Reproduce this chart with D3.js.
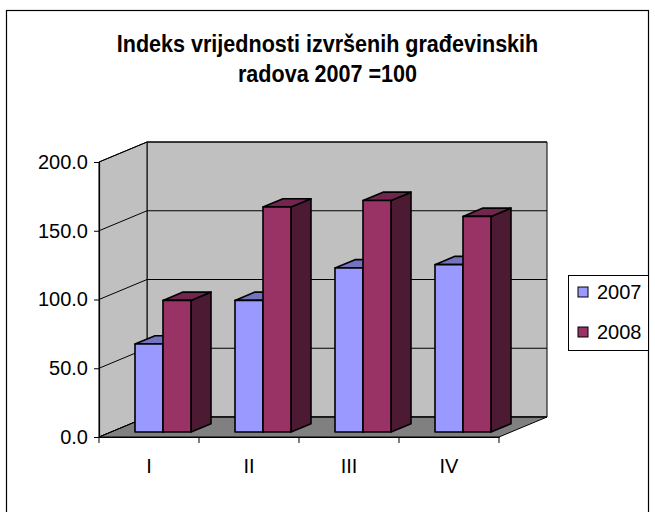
<!DOCTYPE html>
<html>
<head>
<meta charset="utf-8">
<script src="https://cdn.jsdelivr.net/npm/d3@7"></script>
<style>
  html, body { margin: 0; padding: 0; background: #fff; }
  svg { display: block; font-family: Arial, "Liberation Sans", sans-serif; }
</style>
</head>
<body>
<svg id="chart" width="655" height="512"></svg>
<script>
// ---- data ----
const categories = ["I", "II", "III", "IV"];
const seriesNames = ["2007", "2008"];
const values2007 = [64.0, 95.7, 119.3, 121.7];
const values2008 = [95.7, 163.6, 168.4, 156.8];
const yTicks = [0, 50, 100, 150, 200];
const titleLines = ["Indeks vrijednosti izvršenih građevinskih", "radova 2007 =100"];

const seriesValues = [values2007, values2008];
const colors = {
  "2007": { front: "#9999ff", top: "#7373bf", side: "#4d4d80" },
  "2008": { front: "#993366", top: "#73264d", side: "#4d1a33" }
};

const svg = d3.select("#chart");

// outer frame
svg.append("rect").attr("x", 6.5).attr("y", 10.5).attr("width", 642).attr("height", 520)
  .attr("fill", "#fff").attr("stroke", "#000").attr("stroke-width", 1.2);

// title
titleLines.forEach((t, i) => {
  svg.append("text")
    .attr("transform", `translate(327.5, ${52 + i * 30}) scale(0.88,1)`)
    .attr("text-anchor", "middle")
    .attr("font-size", 24.5).attr("font-weight", "bold").attr("fill", "#000")
    .text(t);
});

// geometry
const x = d3.scaleBand().domain(categories).range([99, 499]).padding(0);
const y = d3.scaleLinear().domain([0, 200]).range([437, 162]);
const DX = 48, DY = -20;          // full depth of the plot box
const bfx = 12, bfy = -5;         // bar front offset into depth
const bdx = 20, bdy = -8.3;       // bar depth
const inner = d3.scaleBand().domain(seriesNames).range([0, 56]).padding(0);
const groupOffset = 24;

const x0 = x.range()[0], x1 = x.range()[1];
const yb = y(0), yt = y(200);

// walls
svg.append("polygon")
  .attr("points", [[x0 + DX, yt + DY], [x1 + DX, yt + DY], [x1 + DX, yb + DY], [x0 + DX, yb + DY]].join(" "))
  .attr("fill", "#c0c0c0").attr("stroke", "#000").attr("stroke-width", 1);
svg.append("polygon")
  .attr("points", [[x0, yt], [x0 + DX, yt + DY], [x0 + DX, yb + DY], [x0, yb]].join(" "))
  .attr("fill", "#c0c0c0").attr("stroke", "#000").attr("stroke-width", 1);
svg.append("polygon")
  .attr("points", [[x0, yb], [x1, yb], [x1 + DX, yb + DY], [x0 + DX, yb + DY]].join(" "))
  .attr("fill", "#808080").attr("stroke", "#000").attr("stroke-width", 1);

// gridlines
yTicks.forEach(v => {
  svg.append("line").attr("x1", x0 + DX).attr("x2", x1 + DX)
    .attr("y1", y(v) + DY).attr("y2", y(v) + DY)
    .attr("stroke", "#000").attr("stroke-width", 1);
  svg.append("line").attr("x1", x0).attr("x2", x0 + DX)
    .attr("y1", y(v)).attr("y2", y(v) + DY)
    .attr("stroke", "#000").attr("stroke-width", 1);
});

// y axis
const yAxis = d3.axisLeft(y).tickValues(yTicks).tickSize(5).tickPadding(6)
  .tickFormat(d3.format(".1f"));
const gy = svg.append("g").attr("transform", `translate(${x0},0)`).call(yAxis);
gy.select(".domain").attr("stroke", "#000").attr("stroke-width", 1.2);
gy.selectAll(".tick line").attr("stroke", "#000");
gy.selectAll(".tick text").attr("font-size", 20).attr("fill", "#000")
  .attr("font-family", "Arial, 'Liberation Sans', sans-serif");

// x axis
const xAxis = d3.axisBottom(x).tickSize(0).tickPadding(22);
const gx = svg.append("g").attr("transform", `translate(0,${yb})`).call(xAxis);
gx.select(".domain").attr("stroke", "#000").attr("stroke-width", 1.2);
gx.selectAll(".tick text").attr("font-size", 20).attr("fill", "#000")
  .attr("font-family", "Arial, 'Liberation Sans', sans-serif");
// category boundary ticks
const bounds = categories.map(c => x(c)).concat([x1]);
gx.selectAll(".bound").data(bounds).enter().append("line")
  .attr("x1", d => d).attr("x2", d => d).attr("y1", 0).attr("y2", 6)
  .attr("stroke", "#000").attr("stroke-width", 1);

// bars
const barsG = svg.append("g");
categories.forEach((c, ci) => {
  seriesNames.forEach((s, si) => {
    const v = seriesValues[si][ci];
    const L = x(c) + groupOffset + bfx + inner(s);
    const R = L + inner.bandwidth();
    const B = y(0) + bfy;
    const T = y(v) + bfy;
    const col = colors[s];
    const g = barsG.append("g").attr("stroke", "#000").attr("stroke-width", 1.6)
      .attr("stroke-linejoin", "round");
    g.append("polygon").attr("points",
      [[R, T], [R + bdx, T + bdy], [R + bdx, B + bdy], [R, B]].join(" "))
      .attr("fill", col.side);
    g.append("polygon").attr("points",
      [[L, T], [L + bdx, T + bdy], [R + bdx, T + bdy], [R, T]].join(" "))
      .attr("fill", col.top);
    g.append("rect").attr("x", L).attr("y", T).attr("width", R - L).attr("height", B - T)
      .attr("fill", col.front);
  });
});

// legend
const lg = svg.append("g");
lg.append("rect").attr("x", 568.5).attr("y", 275.5).attr("width", 80).attr("height", 75)
  .attr("fill", "#fff").attr("stroke", "#000").attr("stroke-width", 1);
seriesNames.forEach((s, i) => {
  const cy = 292 + i * 40;
  lg.append("rect").attr("x", 578).attr("y", cy - 5).attr("width", 10).attr("height", 10)
    .attr("fill", colors[s].front).attr("stroke", "#000").attr("stroke-width", 1);
  lg.append("text").attr("x", 597).attr("y", cy + 7).attr("font-size", 20).attr("fill", "#000")
    .text(s);
});
</script>
</body>
</html>
